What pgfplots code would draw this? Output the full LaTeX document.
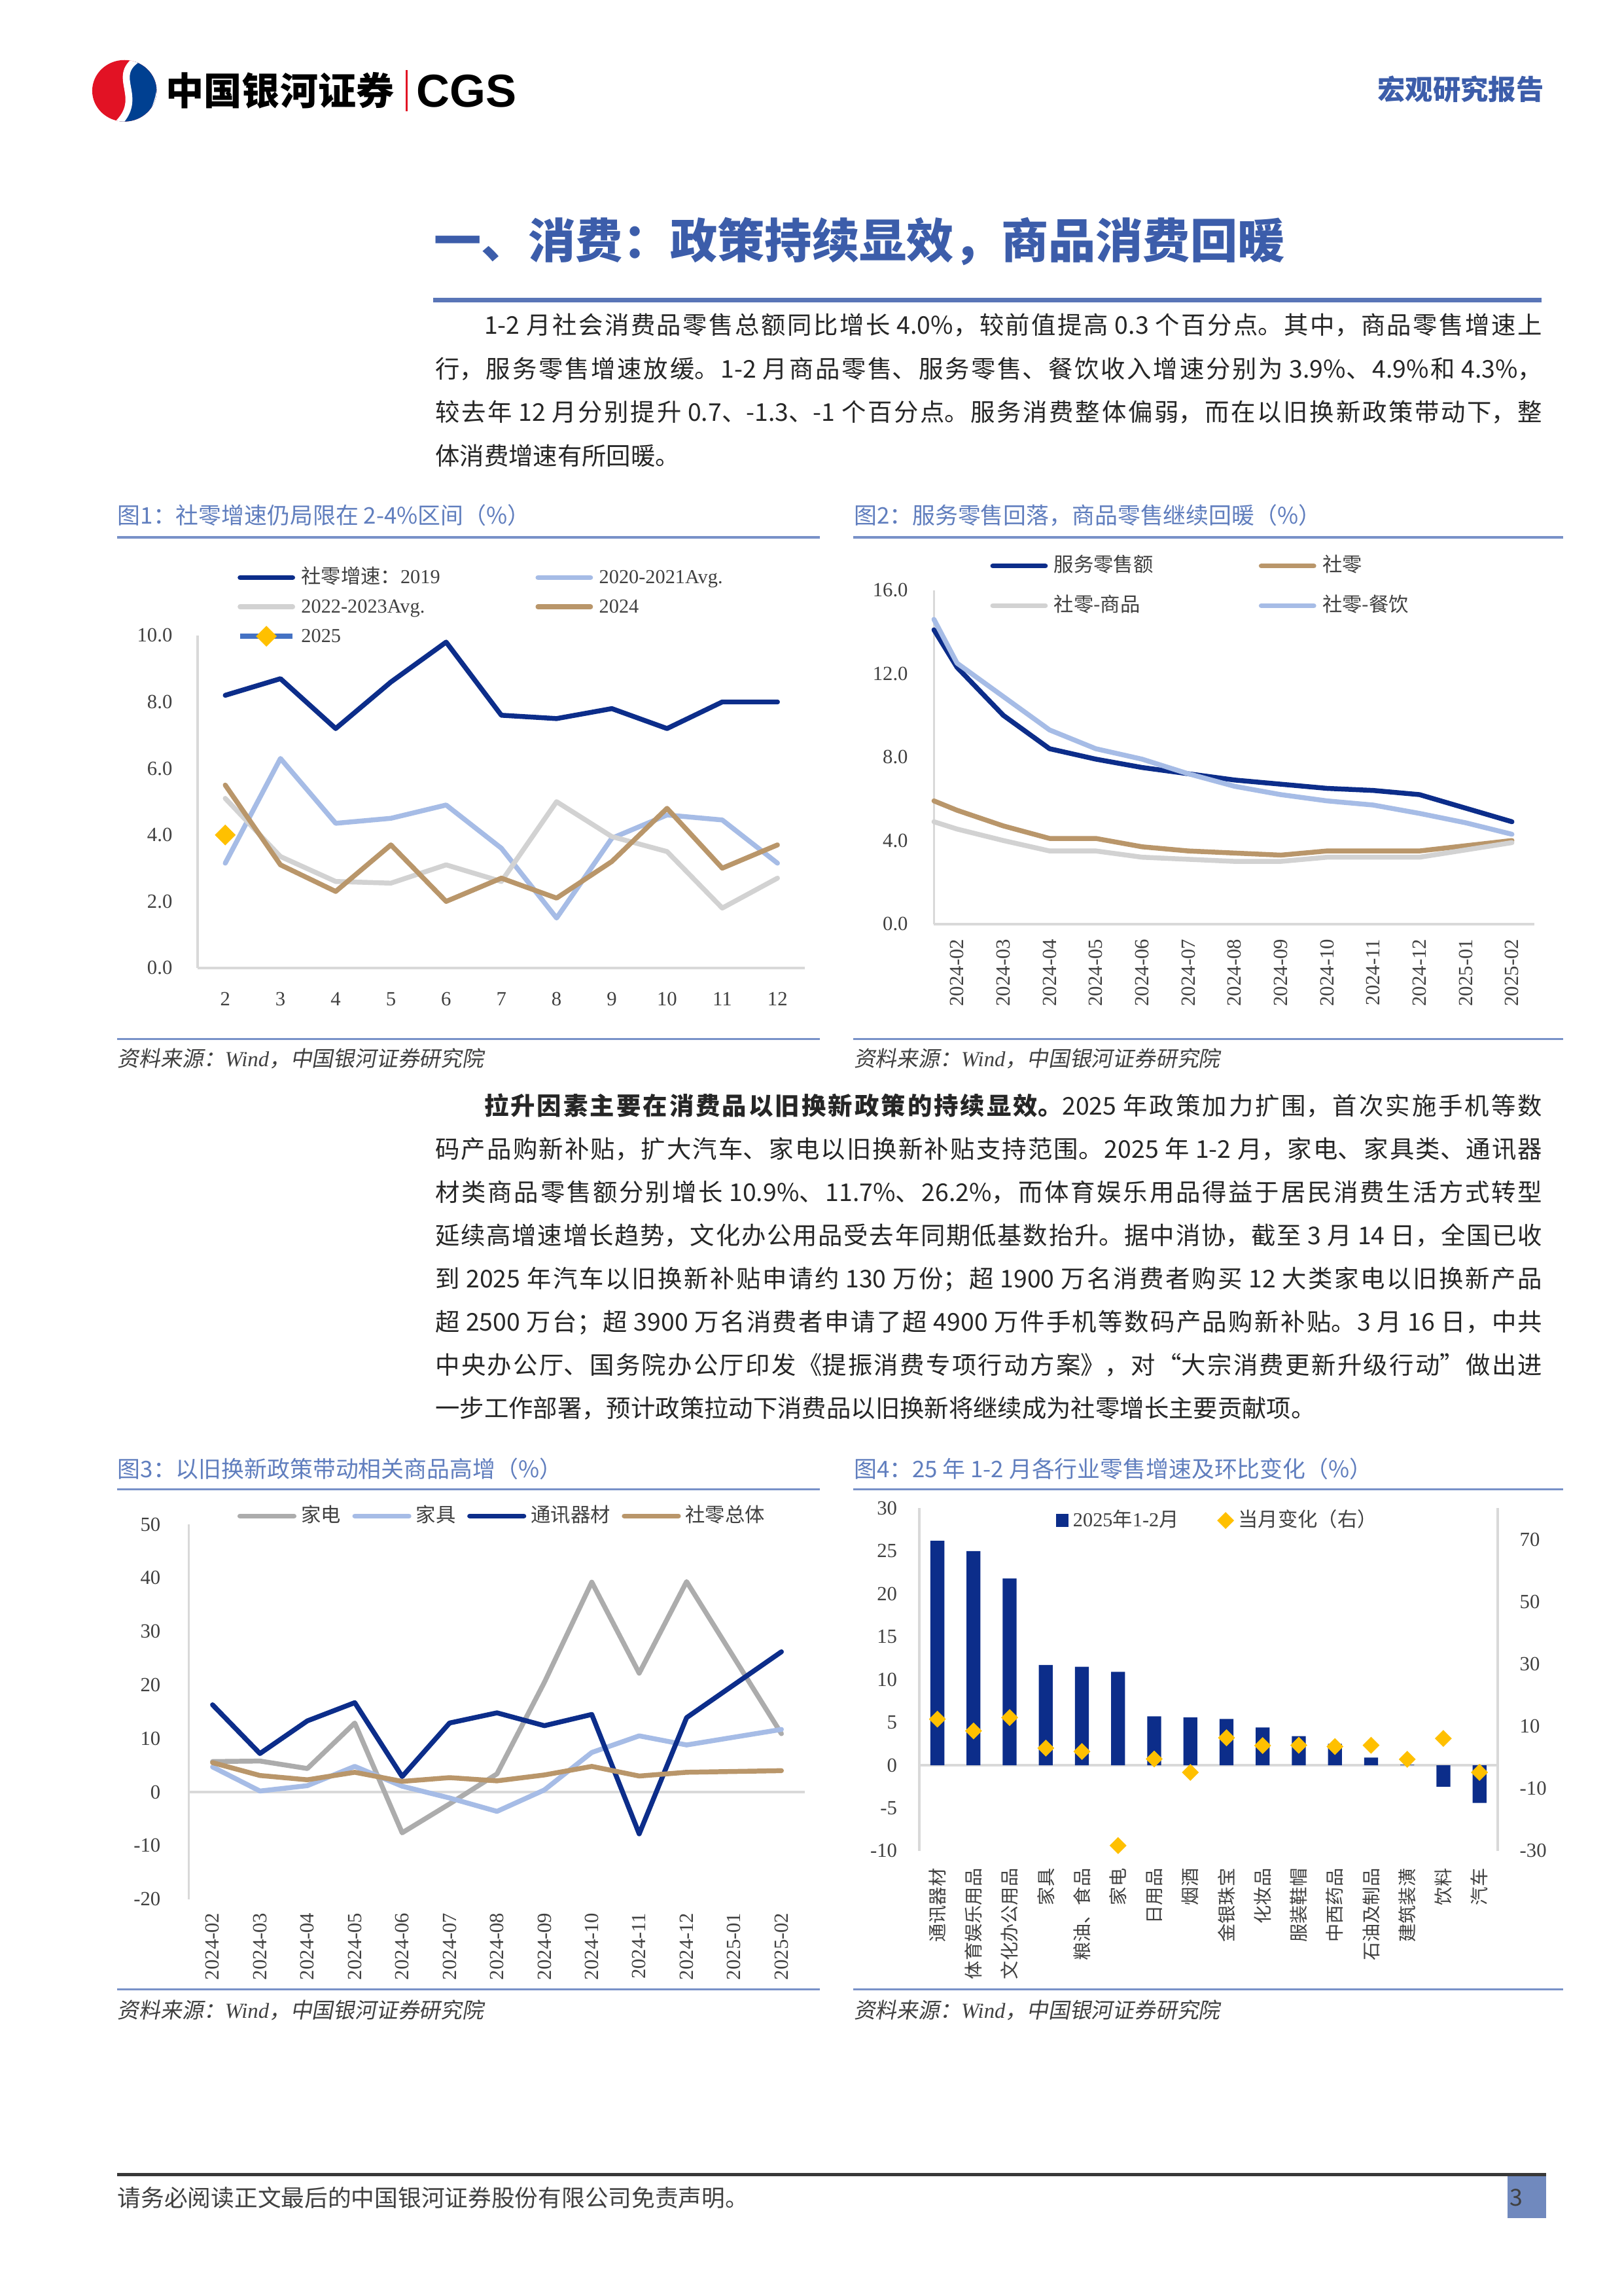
\documentclass[border=0pt]{standalone}
\usepackage{fontspec}
\usepackage{pgfplots}
\pgfplotsset{compat=1.18}
\setmainfont{Liberation Serif}
\newfontfamily\cjk{Noto Sans CJK SC}
\newfontfamily\cjkit{Noto Sans CJK SC}[FakeSlant=0.18]
\newfontfamily\sansb{Liberation Sans}
\definecolor{navy}{RGB}{12,45,138}
\definecolor{lblue}{RGB}{166,188,230}
\definecolor{lgray}{RGB}{210,210,210}
\definecolor{mgray}{RGB}{172,172,172}
\definecolor{tan}{RGB}{185,150,106}
\definecolor{gold}{RGB}{255,192,0}
\definecolor{blue25}{RGB}{68,114,196}
\definecolor{axisgray}{RGB}{217,217,217}
\definecolor{titleblue}{RGB}{96,126,190}
\definecolor{headblue}{RGB}{60,93,170}
\definecolor{rulecol}{RGB}{120,145,200}
\definecolor{txt}{RGB}{38,38,38}
\definecolor{ticktxt}{RGB}{64,64,64}
\definecolor{logored}{RGB}{226,18,36}
\definecolor{logoblue}{RGB}{0,64,145}
\definecolor{pagebox}{RGB}{112,137,190}
\pgfplotsset{
  every tick label/.append style={font=\fontsize{7.4}{8}\selectfont, text=ticktxt},
  /pgf/number format/assume math mode=true,
  base/.style={scale only axis, anchor=south west,
    axis line style={-, draw=axisgray, line width=0.9pt},
    major tick length=0pt, tick style={draw=none},
    yticklabel style={inner sep=0pt}, xticklabel style={inner sep=0pt},
    clip=false},
  ln/.style={line width=1.8pt, line join=round, line cap=round, mark=none},
  lgd/.style={legend cell align=left,
    legend style={draw=none, fill=none, inner sep=0pt, anchor=north west,
      font=\fontsize{7.3}{8}\selectfont, text=ticktxt,
      nodes={inner sep=0pt, text height=6pt, text depth=1.6pt}}},
}
\begin{document}
\begin{tikzpicture}
\begin{scope}[x=0.18936mm,y=-0.18936mm]
\fill[white] (0,0) rectangle (1109,1568);
\coordinate (c1) at (135,661);
\coordinate (c2) at (638,631);
\coordinate (c3) at (129,1297);
\coordinate (c4) at (628,1264);
% logo
\begin{scope}
\clip (85,62) ellipse (22 and 21);
\fill[logored] (60,38) rectangle (110,86);
\fill[logoblue] (95,40) .. controls (72,52) and (100,66) .. (78,85) -- (110,86) -- (110,38) -- cycle;
\draw[white, line width=0.9mm] (96,39) .. controls (73,52) and (101,66) .. (79,86);
\fill[white] (102,34) .. controls (112,50) and (108,72) .. (94,90) -- (115,90) -- (115,34) -- cycle;
\end{scope}
\node[anchor=west, inner sep=0, font=\cjk\bfseries\fontsize{14}{14}\selectfont] at (113,62) {中国银河证券};
\fill[logored] (277,48) rectangle (278.6,76);
\node[anchor=west, inner sep=0, font=\sansb\bfseries\fontsize{17}{17}\selectfont] at (284,62) {CGS};
\node[anchor=east, inner sep=0, text=headblue, font=\cjk\bfseries\fontsize{10.2}{11}\selectfont] at (1055,61) {宏观研究报告};
% heading
\node[anchor=west, inner sep=0, text=headblue, font=\cjk\bfseries\fontsize{17.4}{18}\selectfont] at (296,165) {一、消费：政策持续显效，商品消费回暖};
\draw[headblue!85, line width=0.6mm] (296,205) -- (1053,205);
% paragraph 1
\node[anchor=base west, inner sep=0, text=txt] at (297,228.4) {\parbox[t]{143.2mm}{\cjk\fontsize{9}{16}\selectfont
\XeTeXlinebreaklocale "zh"\XeTeXlinebreakskip=0pt plus 2pt\tolerance=10000\hbadness=10000
\hspace*{18pt}1-2 月社会消费品零售总额同比增长 4.0\%，较前值提高 0.3 个百分点。其中，商品零售增速上\linebreak
行，服务零售增速放缓。1-2 月商品零售、服务零售、餐饮收入增速分别为 3.9\%、4.9\%和 4.3\%，\linebreak
较去年 12 月分别提升 0.7、-1.3、-1 个百分点。服务消费整体偏弱，而在以旧换新政策带动下，整\linebreak
体消费增速有所回暖。}};
% paragraph 2
\node[anchor=base west, inner sep=0, text=txt] at (297,761.4) {\parbox[t]{143.2mm}{\cjk\fontsize{9}{15.9}\selectfont
\XeTeXlinebreaklocale "zh"\XeTeXlinebreakskip=0pt plus 2pt\tolerance=10000\hbadness=10000
\hspace*{18pt}{\bfseries 拉升因素主要在消费品以旧换新政策的持续显效。}2025 年政策加力扩围，首次实施手机等数\linebreak
码产品购新补贴，扩大汽车、家电以旧换新补贴支持范围。2025 年 1-2 月，家电、家具类、通讯器\linebreak
材类商品零售额分别增长 10.9\%、11.7\%、26.2\%，而体育娱乐用品得益于居民消费生活方式转型\linebreak
延续高增速增长趋势，文化办公用品受去年同期低基数抬升。据中消协，截至 3 月 14 日，全国已收\linebreak
到 2025 年汽车以旧换新补贴申请约 130 万份；超 1900 万名消费者购买 12 大类家电以旧换新产品\linebreak
超 2500 万台；超 3900 万名消费者申请了超 4900 万件手机等数码产品购新补贴。3 月 16 日，中共\linebreak
中央办公厅、国务院办公厅印发《提振消费专项行动方案》，对“大宗消费更新升级行动”做出进\linebreak
一步工作部署，预计政策拉动下消费品以旧换新将继续成为社零增长主要贡献项。}};
% chart titles
\tikzset{ctitle/.style={anchor=west, inner sep=0, text=titleblue, font=\cjk\fontsize{8.4}{9}\selectfont},
  src/.style={anchor=west, inner sep=0, text=ticktxt, font=\fontsize{7.9}{8}\selectfont}}
\node[ctitle] at (80,352) {图1：社零增速仍局限在 2-4\%区间（\%）};
\node[ctitle] at (583,352) {图2：服务零售回落，商品零售继续回暖（\%）};
\node[ctitle] at (80,1003) {图3：以旧换新政策带动相关商品高增（\%）};
\node[ctitle] at (583,1003) {图4：25 年 1-2 月各行业零售增速及环比变化（\%）};
\draw[rulecol, line width=0.8pt] (80,367) -- (560,367);
\draw[rulecol, line width=0.8pt] (583,367) -- (1068,367);
\draw[rulecol, line width=0.8pt] (80,709.5) -- (560,709.5);
\draw[rulecol, line width=0.8pt] (583,709.5) -- (1068,709.5);
\draw[rulecol, line width=0.8pt] (80,1017) -- (560,1017);
\draw[rulecol, line width=0.8pt] (583,1017) -- (1068,1017);
\draw[rulecol, line width=0.8pt] (80,1358.5) -- (560,1358.5);
\draw[rulecol, line width=0.8pt] (583,1358.5) -- (1068,1358.5);
\node[src] at (80,723) {{\cjkit 资料来源：}\textit{Wind}{\cjkit ，中国银河证券研究院}};
\node[src] at (583,723) {{\cjkit 资料来源：}\textit{Wind}{\cjkit ，中国银河证券研究院}};
\node[src] at (80,1373) {{\cjkit 资料来源：}\textit{Wind}{\cjkit ，中国银河证券研究院}};
\node[src] at (583,1373) {{\cjkit 资料来源：}\textit{Wind}{\cjkit ，中国银河证券研究院}};
% footer
\draw[black!78, line width=0.45mm] (80,1485) -- (1056,1485);
\fill[pagebox] (1030,1486) rectangle (1056,1515);
\node[anchor=west, inner sep=0, text=ticktxt, font=\cjk\fontsize{8.6}{9}\selectfont] at (80,1501) {请务必阅读正文最后的中国银河证券股份有限公司免责声明。};
\node[anchor=west, inner sep=0, text=ticktxt, font=\cjk\fontsize{8.6}{9}\selectfont] at (1031,1501) {3};
\end{scope}

% ---------- chart 1 ----------
\begin{axis}[base, lgd, at={(c1)}, width=78.58mm, height=42.99mm,
  xmin=1.5, xmax=12.5, ymin=0, ymax=10,
  axis x line*=bottom, axis y line*=left,
  xtick={2,...,12}, ytick={0,2,...,10},
  yticklabel style={/pgf/number format/.cd, fixed, fixed zerofill, precision=1},
  yticklabel shift=3.2mm, xticklabel shift=3.1mm,
  legend columns=2,
  legend style={at={(0.065,1.207)}, row sep=3.2pt,
    /tikz/every odd column/.append style={column sep=0.8mm},
    /tikz/every even column/.append style={column sep=2.3mm},
    nodes={text width=28mm, align=left}},
  legend image code/.code={\draw[mark repeat=2,mark phase=2,#1] plot coordinates {(0mm,0mm) (3.4mm,0mm) (6.8mm,0mm)};}]
\addplot[ln, navy] coordinates {(2,8.2)(3,8.7)(4,7.2)(5,8.6)(6,9.8)(7,7.6)(8,7.5)(9,7.8)(10,7.2)(11,8.0)(12,8.0)};
\addlegendentry{{\cjk 社零增速：}2019}
\addplot[ln, lblue] coordinates {(2,3.15)(3,6.3)(4,4.35)(5,4.5)(6,4.9)(7,3.6)(8,1.5)(9,3.9)(10,4.6)(11,4.45)(12,3.15)};
\addlegendentry{2020-2021Avg.}
\addplot[ln, lgray] coordinates {(2,5.1)(3,3.35)(4,2.6)(5,2.55)(6,3.1)(7,2.6)(8,5.0)(9,3.95)(10,3.5)(11,1.8)(12,2.7)};
\addlegendentry{2022-2023Avg.}
\addplot[ln, tan] coordinates {(2,5.5)(3,3.1)(4,2.3)(5,3.7)(6,2.0)(7,2.7)(8,2.1)(9,3.2)(10,4.8)(11,3.0)(12,3.7)};
\addlegendentry{2024}
\addplot[line width=1.8pt, blue25, mark=square*, mark size=2.6pt, mark options={rotate=45, fill=gold, draw=gold, line width=0.2pt}] coordinates {(2,4.0)};
\addlegendentry{2025}
\end{axis}

% ---------- chart 2 ----------
\begin{axis}[base, lgd, at={(c2)}, width=77.64mm, height=43.17mm,
  xmin=0.5, xmax=13.48, ymin=0, ymax=16,
  axis x line*=bottom, axis y line*=left,
  xtick={1,...,13},
  xticklabels={2024-02,2024-03,2024-04,2024-05,2024-06,2024-07,2024-08,2024-09,2024-10,2024-11,2024-12,2025-01,2025-02},
  xticklabel style={rotate=90, anchor=east},
  ytick={0,4,...,16},
  yticklabel style={/pgf/number format/.cd, fixed, fixed zerofill, precision=1},
  yticklabel shift=3.3mm, xticklabel shift=1.9mm,
  legend columns=2,
  legend style={at={(0.093,1.105)}, row sep=7pt,
    /tikz/every odd column/.append style={column sep=0.8mm},
    /tikz/every even column/.append style={column sep=2.5mm},
    nodes={text width=24mm, align=left}},
  legend image code/.code={\draw[#1] (0mm,0mm) -- (6.8mm,0mm);}]
\addplot[ln, navy] coordinates {(0.5,14.1)(1,12.3)(2,10.0)(3,8.4)(4,7.9)(5,7.5)(6,7.2)(7,6.9)(8,6.7)(9,6.5)(10,6.4)(11,6.2)(12,5.55)(13,4.9)};
\addlegendentry{\cjk 服务零售额}
\addplot[ln, tan] coordinates {(0.5,5.9)(1,5.45)(2,4.7)(3,4.1)(4,4.1)(5,3.7)(6,3.5)(7,3.4)(8,3.3)(9,3.5)(10,3.5)(11,3.5)(12,3.75)(13,4.0)};
\addlegendentry{\cjk 社零}
\addplot[ln, lgray] coordinates {(0.5,4.9)(1,4.55)(2,4.0)(3,3.5)(4,3.5)(5,3.2)(6,3.1)(7,3.0)(8,3.0)(9,3.2)(10,3.2)(11,3.2)(12,3.55)(13,3.9)};
\addlegendentry{\cjk 社零-商品}
\addplot[ln, lblue] coordinates {(0.5,14.6)(1,12.5)(2,10.9)(3,9.3)(4,8.4)(5,7.9)(6,7.2)(7,6.6)(8,6.2)(9,5.9)(10,5.7)(11,5.3)(12,4.85)(13,4.3)};
\addlegendentry{\cjk 社零-餐饮}
\end{axis}

% ---------- chart 3 ----------
\begin{axis}[base, lgd, at={(c3)}, width=79.72mm, height=48.48mm,
  xmin=0.5, xmax=13.5, ymin=-20, ymax=50,
  axis x line*=bottom, axis y line*=left,
  x axis line style={draw=none},
  xtick={1,...,13},
  xticklabels={2024-02,2024-03,2024-04,2024-05,2024-06,2024-07,2024-08,2024-09,2024-10,2024-11,2024-12,2025-01,2025-02},
  xticklabel style={rotate=90, anchor=east},
  ytick={-20,-10,...,50},
  extra y ticks={0}, extra y tick labels={}, extra y tick style={grid=major, major grid style={draw=axisgray, line width=0.9pt}},
  yticklabel shift=3.6mm, xticklabel shift=1.7mm,
  legend columns=4,
  legend style={at={(0.078,1.051)},
    /tikz/every odd column/.append style={column sep=0.6mm},
    /tikz/every even column/.append style={column sep=1.5mm}},
  legend image code/.code={\draw[#1] (0mm,0mm) -- (7.0mm,0mm);}]
\addplot[ln, mgray] coordinates {(1,5.7)(2,5.8)(3,4.4)(4,12.9)(5,-7.6)(6,-2.2)(7,3.4)(8,20.5)(9,39.2)(10,22.2)(11,39.3)(12,25.1)(13,10.9)};
\addlegendentry{\cjk 家电}
\addplot[ln, lblue] coordinates {(1,4.7)(2,0.2)(3,1.2)(4,4.8)(5,1.1)(6,-1.1)(7,-3.6)(8,0.4)(9,7.4)(10,10.5)(11,8.8)(12,10.25)(13,11.7)};
\addlegendentry{\cjk 家具}
\addplot[ln, navy] coordinates {(1,16.3)(2,7.2)(3,13.3)(4,16.7)(5,2.9)(6,12.9)(7,14.8)(8,12.4)(9,14.5)(10,-7.8)(11,13.9)(12,20.05)(13,26.2)};
\addlegendentry{\cjk 通讯器材}
\addplot[ln, tan] coordinates {(1,5.5)(2,3.1)(3,2.3)(4,3.7)(5,2.0)(6,2.7)(7,2.1)(8,3.2)(9,4.8)(10,3.0)(11,3.7)(12,3.85)(13,4.0)};
\addlegendentry{\cjk 社零总体}
\end{axis}

% ---------- chart 4 ----------
\begin{axis}[base, at={(c4)}, width=74.80mm, height=44.31mm,
  xmin=-0.5, xmax=15.5, ymin=-10, ymax=30,
  axis x line*=bottom, axis y line*=left,
  x axis line style={draw=none},
  xtick={0,...,15},
  xticklabels={通讯器材,体育娱乐用品,文化办公用品,家具,粮油、食品,家电,日用品,烟酒,金银珠宝,化妆品,服装鞋帽,中西药品,石油及制品,建筑装潢,饮料,汽车},
  xticklabel style={rotate=90, anchor=east, font=\cjk\fontsize{6.8}{7}\selectfont},
  ytick={-10,-5,...,30},
  extra y ticks={0}, extra y tick labels={}, extra y tick style={grid=major, major grid style={draw=axisgray, line width=0.9pt}},
  yticklabel shift=2.8mm, xticklabel shift=2.2mm]
\addplot[ybar, bar width=1.8mm, bar shift=0pt, fill=navy, draw=none] coordinates {(0,26.2)(1,25.0)(2,21.8)(3,11.7)(4,11.5)(5,10.9)(6,5.7)(7,5.6)(8,5.4)(9,4.4)(10,3.4)(11,2.5)(12,0.9)(13,0.05)(14,-2.5)(15,-4.4)};
\end{axis}
\begin{axis}[base, lgd, at={(c4)}, width=74.80mm, height=44.31mm,
  xmin=-0.5, xmax=15.5, ymin=-30, ymax=80,
  axis y line*=right, axis x line=none,
  ytick={-30,-10,...,70},
  yticklabel style={anchor=west}, yticklabel shift=2.8mm,
  legend columns=2,
  legend style={at={(0.235,0.996)},
    /tikz/every odd column/.append style={column sep=0.6mm},
    /tikz/every even column/.append style={column sep=5mm}},
  legend image code/.code={\draw[#1] plot coordinates {(0.9mm,0mm)};}]
\addlegendimage{legend image code/.code={\fill[navy] (0mm,-0.8mm) rectangle (1.5mm,0.8mm);}}
\addlegendentry{2025{\cjk 年}1-2{\cjk 月}}
\addplot[only marks, mark=square*, mark size=2.1pt, mark options={rotate=45, fill=gold, draw=gold, line width=0.2pt}]
  coordinates {(0,12.3)(1,8.5)(2,12.8)(3,3.0)(4,1.9)(5,-28.3)(6,-0.5)(7,-4.8)(8,6.3)(9,3.8)(10,3.9)(11,3.5)(12,3.9)(13,-0.6)(14,6.1)(15,-4.8)};
\addlegendentry{{\cjk 当月变化（右）}}
\end{axis}
\end{tikzpicture}
\end{document}
